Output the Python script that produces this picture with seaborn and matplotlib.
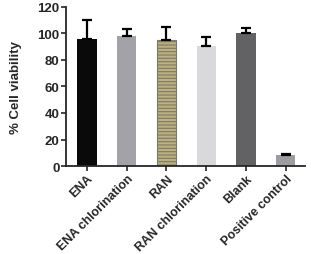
import matplotlib
matplotlib.use("Agg")
import matplotlib.pyplot as plt
import seaborn as sns
import pandas as pd

# cell viability per treatment (mean and upper SD)
groups = ["ENA", "ENA chlorination", "RAN", "RAN chlorination", "Blank", "Positive control"]
viability = [96, 98, 95, 90.5, 100, 8.5]
sd = [14.5, 5, 10, 6.5, 4, 0.8]
bar_colors = ["#0a0a0a", "#a2a2a8", "#bdb07c", "#d9d9db", "#626264", "#9c9ca2"]

df = pd.DataFrame({"group": groups, "viability": viability, "sd": sd})

sns.set_style("ticks")
plt.rcParams["font.family"] = ["Liberation Sans", "DejaVu Sans"]
plt.rcParams["hatch.color"] = "#e8dfb0"
plt.rcParams["hatch.linewidth"] = 0.8

fig, ax = plt.subplots(figsize=(3.11, 2.55), dpi=100)
sns.barplot(data=df, x="group", y="viability", hue="group", palette=bar_colors,
            legend=False, width=0.48, errorbar=None, ax=ax, saturation=1)

for i, p in enumerate(ax.patches):
    p.set_linewidth(0)
    if groups[i] == "RAN":
        p.set_hatch("-----")
        p.set_edgecolor("#7a7a6a")
        p.set_linewidth(0.8)

ax.errorbar(range(len(groups)), df["viability"], yerr=[[0] * len(sd), df["sd"]],
            fmt="none", ecolor="black", elinewidth=1.6, capsize=3.5, capthick=1.6)

ax.set_ylim(0, 120)
ax.set_yticks(range(0, 121, 20))
ax.set_xlim(-0.53, 5.48)
ax.set_xlabel("")
ax.set_ylabel("% Cell viability", fontsize=9.5, fontweight="bold", labelpad=11)
ax.tick_params(axis="y", labelsize=9.5, width=1.2, length=3.5, pad=1)
ax.tick_params(axis="x", labelsize=9, width=1.2, length=3.5, pad=1)
for lab in ax.get_yticklabels():
    lab.set_fontweight("bold")
ax.set_xticks(range(len(groups)))
ax.set_xticklabels(groups, rotation=45, ha="right", rotation_mode="anchor", fontweight="bold")
for s in ["left", "bottom"]:
    ax.spines[s].set_linewidth(1.3)
sns.despine(ax=ax)

fig.subplots_adjust(left=0.212, right=0.98, bottom=0.345, top=0.969)
fig.savefig("out.png", dpi=100)
